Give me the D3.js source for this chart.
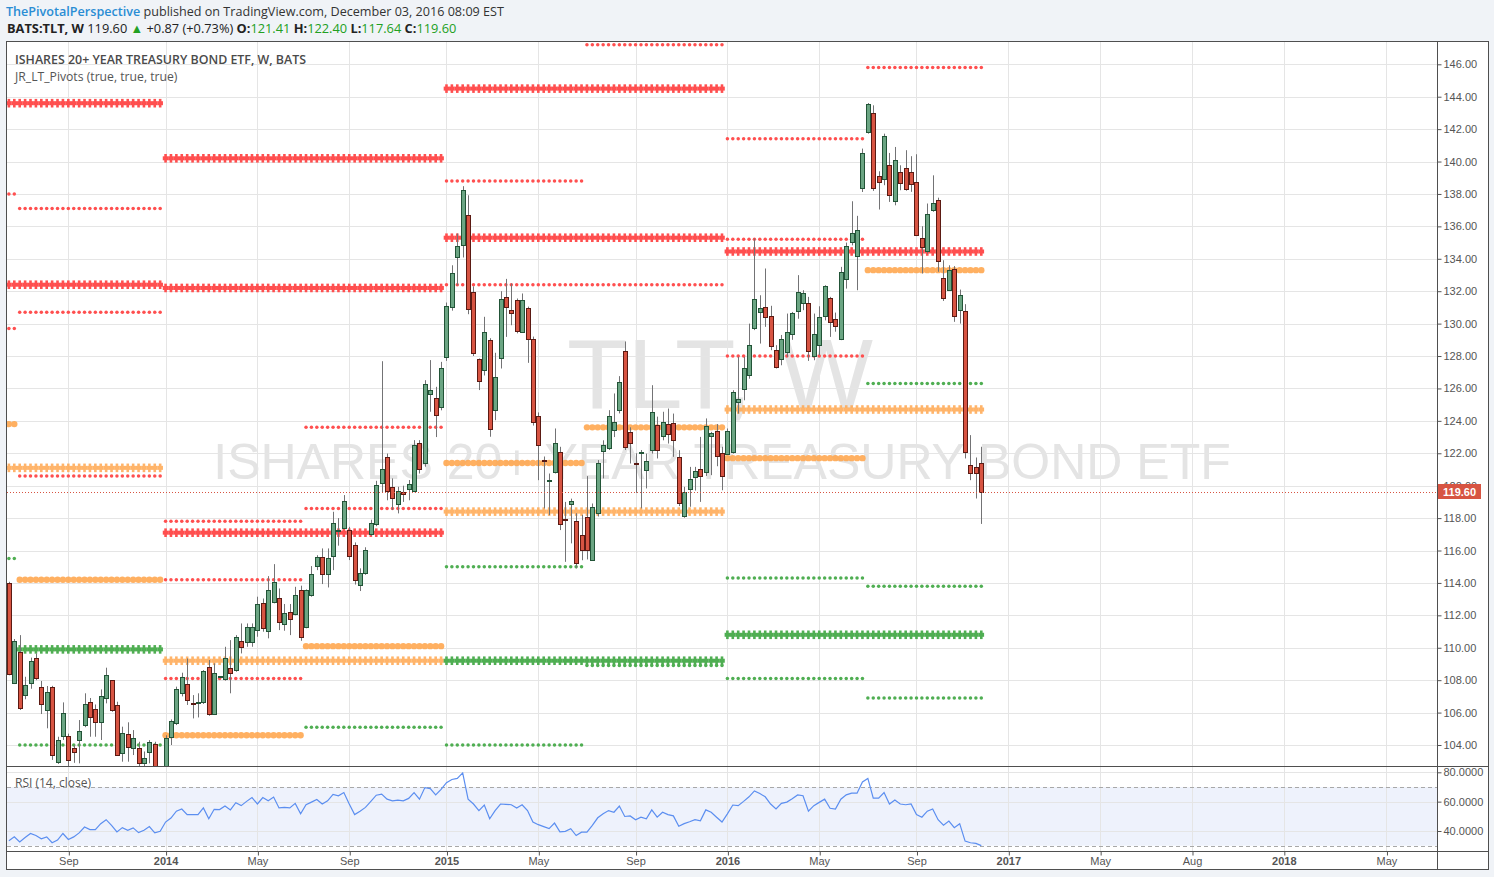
<!DOCTYPE html>
<html><head><meta charset="utf-8">
<script src="https://cdn.jsdelivr.net/npm/d3@7"></script>
<style>
html,body{margin:0;padding:0;background:#f0f3f7;}
svg{display:block;}
</style></head>
<body><svg id="c" width="1494" height="877"></svg>
<script>
// ---------------- DATA ----------------
const firstWeek = "2013-06-17"; // weekly bars, one per week from here
const opens = [113.97,107.8,109.72,107.06,107.8,109.35,107.6,106.16,107.6,102.95,104.55,104.58,103.79,104.29,105.21,106.63,106.2,105.4,106.88,107.99,106.45,103.49,104.66,103.79,103.79,102.87,103.55,104.04,102.3,
102.4,104.49,105.38,107.19,107.74,106.59,106.61,106.67,108.83,105.89,108.19,108.05,108.73,108.62,110.43,110.33,110.33,111.09,112.74,111.03,112.8,113.04,111.44,112.18,112.06,113.54,111.26,113.23,115.04,115.57,114.53,115.66,117.2,117.4,117.26,116.37,113.9,114.63,117.0,117.61,120.14,121.74,119.89,118.9,119.58,119.77,119.67,122.66,121.37,125.63,125.44,124.86,
127.95,131.0,134.12,134.82,136.69,131.98,127.79,127.15,128.96,124.64,127.9,131.67,130.87,131.45,129.49,130.95,129.08,124.27,121.6,120.34,120.82,122.1,117.95,118.85,117.8,116.95,118.04,115.41,118.29,122.15,122.3,123.43,124.7,128.28,123.32,121.4,122.0,120.99,122.19,123.73,123.06,123.8,123.84,121.74,118.12,119.79,120.51,121.06,120.84,123.06,123.4,121.99,
121.95,122.05,125.14,125.94,126.8,129.7,130.69,131.05,130.44,128.4,127.79,128.22,129.39,130.75,131.3,131.3,128.03,128.65,130.46,131.59,130.31,129.04,132.78,135.04,134.18,138.39,141.83,143.02,139.09,138.94,139.77,137.57,139.34,139.63,139.38,138.72,135.31,134.49,137.04,137.65,132.84,132.1,133.4,130.87,130.77,121.25,121.17,121.41];
const highs = [114.07,110.54,110.78,108.21,109.39,109.65,107.95,107.64,107.65,104.51,106.63,104.7,104.0,105.54,107.19,106.9,106.5,107.43,108.77,108.0,106.67,105.13,105.4,104.92,104.2,103.6,104.3,104.2,102.6,
104.6,105.58,107.6,108.46,109.34,107.08,107.19,108.62,109.24,109.04,108.25,110.06,110.47,110.78,111.5,111.5,111.5,113.15,113.04,114.42,115.16,113.66,112.7,112.7,113.76,113.83,113.6,115.04,115.71,116.13,116.13,118.39,118.0,119.42,117.46,116.5,114.9,116.2,117.9,120.3,127.68,121.98,120.45,119.93,120.0,120.35,122.81,122.81,126.51,127.75,126.1,127.64,
131.3,133.6,135.56,138.48,137.92,132.3,127.85,130.42,129.1,128.2,132.0,132.76,132.47,131.55,131.86,131.05,129.2,124.52,121.8,120.75,123.53,122.4,119.0,119.2,118.3,118.2,120.59,118.9,121.58,122.8,124.66,125.69,126.76,128.9,123.6,122.0,122.2,121.98,126.2,124.26,124.56,124.76,124.45,122.19,119.93,121.16,121.16,123.01,124.15,123.32,123.8,122.4,
123.53,125.89,127.95,127.95,130.0,135.25,131.75,133.4,131.1,128.67,129.3,130.62,130.72,132.99,132.06,131.65,130.62,131.07,132.37,131.65,130.68,133.5,135.0,137.55,136.65,140.8,143.61,143.47,139.4,141.72,140.53,140.9,139.77,140.7,140.33,140.45,136.01,137.41,139.15,137.77,133.91,133.6,133.55,132.1,131.2,123.12,121.74,122.4];
const lows = [108.3,107.76,106.16,106.82,107.47,108.0,105.91,105.03,103.08,102.83,104.31,102.66,102.9,102.87,105.1,104.51,104.51,104.31,106.57,106.05,103.36,102.97,102.97,103.38,102.56,102.56,102.87,101.9,101.4,
102.0,104.0,105.23,107.0,106.47,105.64,105.7,106.53,105.8,105.85,108.15,107.97,107.19,108.52,109.65,110.06,110.06,110.68,110.99,110.58,112.74,111.09,111.05,110.78,112.0,110.43,111.2,113.15,114.79,113.93,113.72,114.79,116.3,117.35,115.41,113.9,113.5,114.5,116.9,117.5,119.6,119.1,118.5,118.29,119.0,119.1,119.6,120.75,121.17,124.56,123.0,124.65,
127.7,130.8,132.37,134.08,130.58,128.0,125.9,126.8,123.02,124.04,127.23,129.18,129.9,129.4,129.43,127.58,123.71,120.34,118.6,118.18,120.75,117.26,115.3,116.44,114.9,115.4,115.45,115.37,118.1,120.45,122.2,123.0,124.46,122.2,121.37,119.56,118.6,119.83,121.98,121.68,122.8,122.6,121.78,118.74,118.02,118.7,119.7,119.0,120.6,120.65,121.2,119.72,
121.9,121.98,124.45,125.27,126.6,129.6,128.77,129.8,128.36,127.23,127.43,127.95,129.0,130.3,130.83,127.7,127.74,128.05,130.2,129.18,129.5,128.98,132.16,134.83,132.06,138.12,141.72,138.19,137.04,138.54,137.51,137.3,138.23,138.2,138.13,135.4,133.09,134.32,136.9,133.2,131.4,132.05,130.11,130.0,121.68,120.34,119.21,117.64];
const closes = [108.38,110.41,106.26,107.68,109.16,108.11,106.51,107.25,103.36,104.29,105.95,103.07,103.55,104.89,106.51,105.71,105.44,107.0,108.3,106.14,103.36,104.72,103.9,104.41,102.87,103.18,104.2,102.3,102.0,
104.43,105.46,107.43,108.21,106.75,106.55,106.65,108.54,105.89,108.46,108.23,109.34,108.42,110.68,110.02,111.3,111.3,112.68,111.2,113.54,114.07,111.56,112.12,111.75,113.23,110.64,113.54,114.53,115.61,114.53,115.51,117.67,117.24,119.05,115.68,114.17,114.59,116.03,117.67,120.04,121.06,119.68,119.21,119.68,119.46,120.1,122.5,121.06,126.3,125.88,124.39,127.29,
131.07,133.15,134.78,138.27,130.93,128.16,126.49,129.51,123.47,126.68,131.5,131.03,130.68,129.55,131.45,129.08,123.96,122.48,121.57,120.38,122.66,117.61,117.9,119.07,115.2,116.03,116.03,118.7,121.37,122.48,124.33,123.96,126.39,122.36,122.65,121.33,122.1,121.51,124.52,122.23,123.9,123.16,122.79,118.96,119.62,120.44,120.92,120.59,123.7,123.22,121.82,120.59,
123.36,125.77,125.33,127.29,128.71,131.49,130.99,130.38,128.59,127.35,129.02,129.51,130.68,131.98,131.86,128.32,129.39,130.42,132.29,130.13,129.84,133.21,134.77,135.62,135.76,140.55,143.57,138.39,138.76,141.56,137.96,140.08,138.68,138.29,138.62,135.47,134.73,136.79,137.47,133.87,131.55,133.3,130.46,131.75,122.05,120.81,120.81,119.6];
const rsiValues = [33.4,36.0,32.5,35.6,38.3,36.9,34.7,36.0,32.0,33.8,38.3,34.2,36.0,38.7,42.7,41.0,41.0,45.0,47.7,43.9,39.4,42.3,40.5,42.1,38.9,40.5,43.0,38.7,39.8,
46.1,48.8,53.5,55.0,51.2,51.2,51.2,55.7,48.3,54.8,54.6,57.0,54.4,59.3,57.3,60.2,62.8,58.4,62.8,60.6,63.1,55.7,56.1,55.7,58.8,51.7,57.9,59.7,61.5,58.4,60.6,64.9,64.0,66.2,58.4,51.2,53.5,56.1,60.2,64.4,65.1,61.7,60.6,61.1,60.6,62.2,66.2,61.7,69.6,68.9,64.6,68.4,
72.9,75.1,75.8,79.6,61.7,58.4,53.9,57.7,48.3,53.9,58.4,58.2,57.9,55.7,57.9,53.9,46.1,44.3,43.0,41.6,45.4,39.4,39.8,41.6,36.9,39.2,39.2,43.9,49.0,51.7,53.9,52.8,57.0,49.9,50.3,47.7,49.4,48.3,54.4,49.4,52.8,51.2,50.3,43.2,45.0,46.3,47.7,47.0,54.4,52.8,49.4,46.1,
51.7,57.7,57.3,60.2,63.3,67.3,65.5,63.3,58.4,55.0,58.8,59.7,62.0,64.6,64.0,53.5,57.3,59.5,61.7,55.5,55.0,61.7,64.6,65.8,65.8,73.4,75.8,62.4,62.4,66.2,58.4,61.1,58.4,57.9,58.4,51.2,49.4,53.5,55.0,47.7,43.9,46.8,42.3,45.0,33.1,32.0,31.6,30.0];

const priceTicks = [104,106,108,110,112,114,116,118,120,122,124,126,128,130,132,134,136,138,140,142,144,146];
const rsiTicks = [40,60,80];
const rsiBands = [30,70];
const timeTickDates = ["2013-09-02","2014-01-06","2014-05-05","2014-09-01","2015-01-05","2015-05-04","2015-09-07","2016-01-04","2016-05-02","2016-09-05","2017-01-02","2017-05-01","2017-08-28","2017-12-25","2018-05-07"];
const timeTickLabels = ["Sep","2014","May","Sep","2015","May","Sep","2016","May","Sep","2017","May","Aug","2018","May"];

// pivot periods (first and last weekly bar of each period)
const periodNames = ["Y2013","Y2014","Y2015","Y2016","H2013a","H2013b","H2014a","H2014b","H2015a","H2015b","H2016a","H2016b"];
const periodStart = ["2013-06-17","2014-01-06","2015-01-05","2016-01-04","2013-06-17","2013-07-01","2014-01-06","2014-07-07","2015-01-05","2015-07-06","2016-01-04","2016-07-04"];
const periodEnd   = ["2013-12-30","2014-12-29","2015-12-28","2016-11-28","2013-06-24","2013-12-30","2014-06-30","2014-12-29","2015-06-29","2015-12-28","2016-06-27","2016-11-28"];
// pivot levels
const pivotPeriod = ["Y2013","Y2013","Y2013","Y2013","Y2014","Y2014","Y2014","Y2014","Y2015","Y2015","Y2015","Y2015","Y2016","Y2016","Y2016",
  "H2013a","H2013a","H2013a","H2013a","H2013b","H2013b","H2013b","H2013b","H2013b","H2014a","H2014a","H2014a","H2014a","H2014b","H2014b","H2014b","H2014b",
  "H2015a","H2015a","H2015a","H2015a","H2015a","H2015b","H2015b","H2015b","H2015b","H2016a","H2016a","H2016a","H2016a","H2016a","H2016a","H2016b","H2016b","H2016b","H2016b","H2016b"];
const pivotKind = ["R","R","P","S","R","R","R","P","R","R","P","S","R","P","S",
  "R","R","P","S","R","R","R","P","S","R","R","R","P","R","R","P","S",
  "R","R","P","S","S","R","R","P","S","R","R","R","P","S","S","R","P","S","S","S"];
const pivotLevel = [143.6,132.4,121.1,109.9,140.2,132.2,117.1,109.2,144.5,135.3,118.4,109.2,134.45,124.7,110.8,
  138.0,129.7,123.8,115.5,137.1,130.7,120.6,114.2,104.0,117.8,114.2,108.1,104.6,123.6,118.6,110.1,105.1,
  138.8,132.4,121.4,115.0,104.0,147.2,132.4,123.6,108.9,141.4,135.2,128.0,121.7,114.3,108.1,145.8,133.3,126.3,113.8,106.9];

// ---------------- LAYOUT ----------------
const svg = d3.select("#c");
const L = 7, R = 1437, BOXR = 1488, TOP = 42, MAINB = 766.5, RSIT = 767, RSIB = 851, BOTTOM = 869;
const parse = d3.utcParse("%Y-%m-%d");
const start = parse(firstWeek);
const dates = closes.map((_, i) => d3.utcDay.offset(start, 7 * i));
const bars = dates.map((d, i) => ({d, o: opens[i], h: highs[i], l: lows[i], c: closes[i], r: rsiValues[i]}));

const x = d3.scaleUtc().domain([dates[0], dates[dates.length - 1]]).range([8.9, 981.3]);
const y = d3.scaleLinear().domain([104, 146]).range([745, 64.3]);
const yr = d3.scaleLinear().domain([40, 80]).range([831, 772.3]);

const up = {fill: "#6ba583", stroke: "#225437"}, dn = {fill: "#d75442", stroke: "#5b1a13"};
const kindColor = {R: "#ff4f4f", P: "#ffa851", S: "#4fae52"};
const axisFont = "'Liberation Sans', Arial, sans-serif";
const uiFont = "'Open Sans', 'Liberation Sans', sans-serif";

// background box
svg.append("rect").attr("x", L).attr("y", TOP).attr("width", BOXR - L).attr("height", BOTTOM - TOP).attr("fill", "#fff");

const defs = svg.append("defs");
defs.append("clipPath").attr("id", "mainClip").append("rect").attr("x", L).attr("y", TOP).attr("width", R - L).attr("height", MAINB - TOP);
defs.append("clipPath").attr("id", "rsiClip").append("rect").attr("x", L).attr("y", RSIT).attr("width", R - L).attr("height", RSIB - RSIT);

// watermark
const wm = svg.append("g").attr("clip-path", "url(#mainClip)");
wm.append("text").attr("x", 720).attr("y", 408).attr("text-anchor", "middle")
  .attr("font-family", axisFont).attr("font-size", 99).attr("fill", "#e4e4e4").text("TLT, W");
wm.append("text").attr("x", 722).attr("y", 479).attr("text-anchor", "middle")
  .attr("font-family", axisFont).attr("font-size", 50).attr("fill", "#e4e4e4").text("ISHARES 20+ YEAR TREASURY BOND ETF");

// RSI band
svg.append("rect").attr("x", L).attr("width", R - L).attr("y", yr(rsiBands[1])).attr("height", yr(rsiBands[0]) - yr(rsiBands[1])).attr("fill", "#eef2fc");

// grid
const tickDates = timeTickDates.map(parse);
const grid = svg.append("g").attr("stroke", "#e5e5e5").attr("stroke-width", 1);
tickDates.forEach(d => {
  const xx = Math.round(x(d)) + 0.5;
  grid.append("line").attr("x1", xx).attr("x2", xx).attr("y1", TOP).attr("y2", RSIB);
});
priceTicks.forEach(p => {
  const yy = Math.round(y(p)) + 0.5;
  grid.append("line").attr("x1", L).attr("x2", R).attr("y1", yy).attr("y2", yy);
});
rsiTicks.forEach(v => {
  const yy = Math.round(yr(v)) + 0.5;
  grid.append("line").attr("x1", L).attr("x2", R).attr("y1", yy).attr("y2", yy);
});
rsiBands.forEach(v => {
  const yy = Math.round(yr(v)) + 0.5;
  svg.append("line").attr("x1", L).attr("x2", R).attr("y1", yy).attr("y2", yy)
    .attr("stroke", "#a8a8a8").attr("stroke-dasharray", "4,3");
});

// pivots
const pg = svg.append("g").attr("clip-path", "url(#mainClip)");
pivotLevel.forEach((lv, k) => {
  const pi = periodNames.indexOf(pivotPeriod[k]);
  const s = parse(periodStart[pi]), e = parse(periodEnd[pi]);
  const wk = dates.filter(d => d >= s && d <= e);
  const yearly = pivotPeriod[k][0] === "Y";
  const col = kindColor[pivotKind[k]];
  const yy = y(lv);
  const g = pg.append("g").attr("fill", col);
  if (yearly) {
    g.attr("opacity", pivotKind[k] === "P" ? 0.85 : 1);
    wk.forEach(d => {
      const xx = x(d);
      g.append("rect").attr("x", xx - 2.8).attr("y", yy - 2).attr("width", 5.6).attr("height", 4);
      g.append("rect").attr("x", xx - 1.3).attr("y", yy - 4.3).attr("width", 2.6).attr("height", 8.6);
    });
  } else {
    const rr = pivotKind[k] === "P" ? 3.2 : 1.75;
    if (pivotKind[k] === "P") g.attr("opacity", 0.9);
    wk.forEach(d => g.append("circle").attr("cx", x(d)).attr("cy", yy).attr("r", rr));
  }
});

// candles
const cg = svg.append("g").attr("clip-path", "url(#mainClip)");
bars.forEach(b => {
  const cx = Math.round(x(b.d));
  cg.append("line").attr("x1", cx + 0.5).attr("x2", cx + 0.5).attr("y1", y(b.h)).attr("y2", y(b.l))
    .attr("stroke", "#737375").attr("stroke-width", 1);
  const st = b.c >= b.o ? up : dn;
  const top = Math.round(y(Math.max(b.o, b.c))), bot = Math.round(y(Math.min(b.o, b.c)));
  cg.append("rect").attr("x", cx - 1.5).attr("y", top + 0.5).attr("width", 4).attr("height", Math.max(1, bot - top))
    .attr("fill", st.fill).attr("stroke", st.stroke).attr("stroke-width", 1);
});

// last price line
const lastClose = closes[closes.length - 1];
svg.append("line").attr("x1", L).attr("x2", R).attr("y1", Math.round(y(lastClose)) + 0.5).attr("y2", Math.round(y(lastClose)) + 0.5)
  .attr("stroke", "#d75442").attr("stroke-dasharray", "1,2");

// RSI line
svg.append("path").attr("clip-path", "url(#rsiClip)")
  .attr("d", d3.line().x(b => x(b.d)).y(b => yr(b.r))(bars))
  .attr("fill", "none").attr("stroke", "#5b8ef0").attr("stroke-width", 1.2);

// frame lines
const frame = svg.append("g").attr("stroke", "#4f4f4f").attr("stroke-width", 1);
frame.append("rect").attr("x", L - 0.5).attr("y", TOP - 0.5).attr("width", BOXR - L + 1).attr("height", BOTTOM - TOP + 1).attr("fill", "none");
frame.append("line").attr("x1", R + 0.5).attr("x2", R + 0.5).attr("y1", TOP).attr("y2", BOTTOM);
frame.append("line").attr("x1", L).attr("x2", BOXR).attr("y1", MAINB).attr("y2", MAINB);
frame.append("line").attr("x1", L).attr("x2", BOXR).attr("y1", RSIB + 0.5).attr("y2", RSIB + 0.5);

// last price label geometry
const ly = y(lastClose);
const boxTop = Math.round(ly - 8);

// price axis
const pa = svg.append("g").attr("transform", `translate(${R + 0.5},0)`)
  .call(d3.axisRight(y).tickValues(priceTicks).tickSize(4).tickPadding(2).tickFormat(d3.format(".2f")));
pa.select(".domain").remove();
pa.selectAll("line").attr("stroke", "#555");
pa.selectAll("text").attr("font-family", axisFont).attr("font-size", 11).attr("fill", "#555");
// the tick label hidden under the last-price label: keep only its visible top part
pa.selectAll(".tick").filter(p => Math.abs(y(p) - ly) < 12).each(function (p) {
  const id = "clipTick" + p;
  defs.append("clipPath").attr("id", id).append("rect").attr("x", 0).attr("y", -20).attr("width", 60).attr("height", boxTop - y(p) + 20);
  d3.select(this).select("text").attr("clip-path", `url(#${id})`);
});

// rsi axis
const ra = svg.append("g").attr("transform", `translate(${R + 0.5},0)`)
  .call(d3.axisRight(yr).tickValues(rsiTicks).tickSize(4).tickPadding(2).tickFormat(d3.format(".4f")));
ra.select(".domain").remove();
ra.selectAll("line").attr("stroke", "#555");
ra.selectAll("text").attr("font-family", axisFont).attr("font-size", 11).attr("fill", "#555");

// time axis
const ta = svg.append("g").attr("transform", `translate(0,${RSIB + 0.5})`)
  .call(d3.axisBottom(x).tickValues(tickDates).tickSize(4).tickPadding(2).tickFormat((d, i) => timeTickLabels[i]));
ta.select(".domain").remove();
ta.selectAll("line").attr("stroke", "#555").attr("transform", "translate(0.5,0)");
ta.selectAll("text").attr("font-family", axisFont).attr("font-size", 11).attr("fill", "#555")
  .attr("font-weight", (d, i) => /^\d{4}$/.test(timeTickLabels[i]) ? "bold" : "normal");

// last price label
svg.append("rect").attr("x", R + 1).attr("y", boxTop).attr("width", 43).attr("height", 15).attr("fill", "#d75442");
svg.append("text").attr("x", R + 6).attr("y", boxTop + 11.5).attr("font-family", axisFont).attr("font-size", 11)
  .attr("font-weight", "bold").attr("fill", "#fff").text(d3.format(".2f")(lastClose));

// titles
svg.append("text").attr("x", 15).attr("y", 64).attr("font-family", uiFont).attr("font-size", 12.4)
  .attr("font-weight", 600).attr("fill", "#4a4a4a").text("ISHARES 20+ YEAR TREASURY BOND ETF, W, BATS");
svg.append("text").attr("x", 15).attr("y", 81).attr("font-family", uiFont).attr("font-size", 12.2)
  .attr("fill", "#555").text("JR_LT_Pivots (true, true, true)");
svg.append("text").attr("x", 15).attr("y", 787).attr("font-family", uiFont).attr("font-size", 12)
  .attr("fill", "#555").text("RSI (14, close)");

// header
const h1 = svg.append("text").attr("x", 6).attr("y", 16).attr("font-family", uiFont).attr("font-size", 12.6).attr("fill", "#333");
h1.append("tspan").attr("fill", "#2a8dd4").attr("font-weight", 600).text("ThePivotalPerspective");
h1.append("tspan").text(" published on TradingView.com, December 03, 2016 08:09 EST");
const h2 = svg.append("text").attr("x", 7).attr("y", 33).attr("font-family", uiFont).attr("font-size", 12.8).attr("fill", "#222");
const green = "#22a022";
h2.append("tspan").attr("font-weight", 700).text("BATS:TLT, W");
h2.append("tspan").text(" 119.60 ");
h2.append("tspan").attr("fill", green).text("▲");
h2.append("tspan").text(" +0.87 (+0.73%) ");
[["O:", "121.41"], ["H:", "122.40"], ["L:", "117.64"], ["C:", "119.60"]].forEach(([k, v], i) => {
  h2.append("tspan").attr("font-weight", 700).text((i ? " " : "") + k);
  h2.append("tspan").attr("fill", green).text(v);
});
</script>
</body></html>
